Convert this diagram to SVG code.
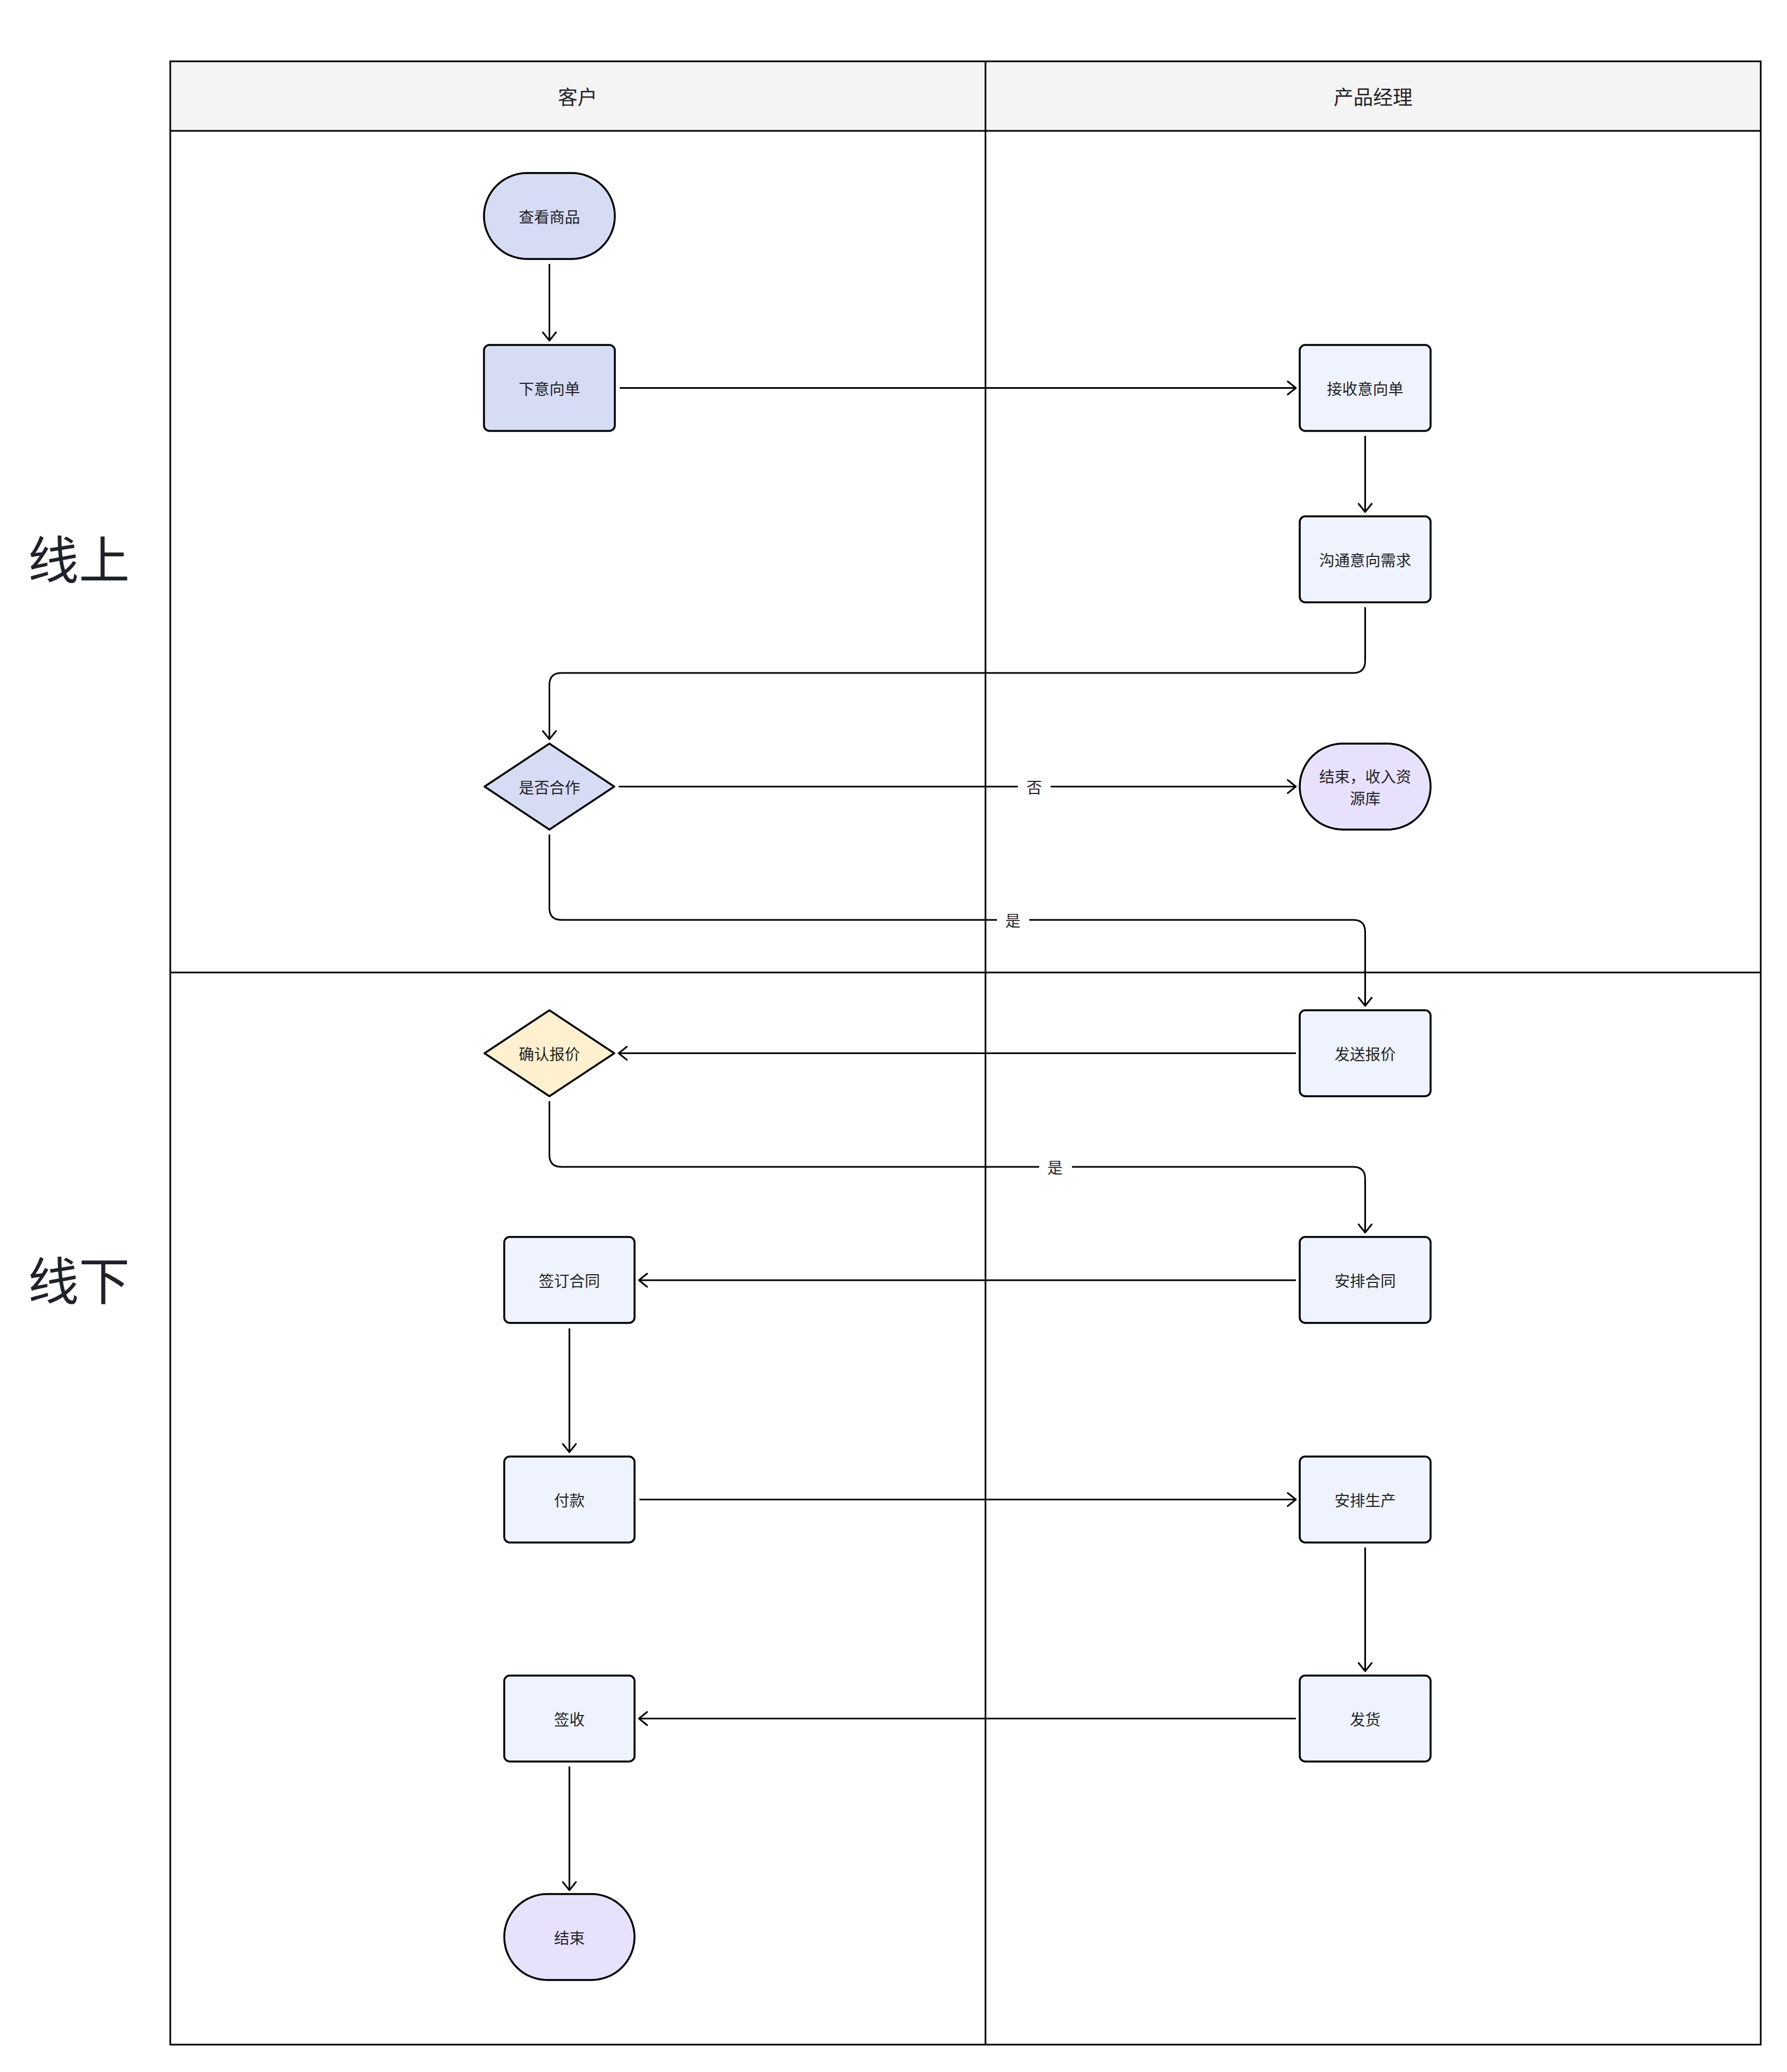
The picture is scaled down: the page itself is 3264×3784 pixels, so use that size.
<svg xmlns="http://www.w3.org/2000/svg" width="3264" height="3784" viewBox="0 0 3264 3784">
  <style>
    text { font-family: "Noto Sans CJK SC", "Noto Sans", sans-serif; fill: #1f2329; text-anchor: middle; dominant-baseline: central; }
    .lane { fill: none; stroke: #000; stroke-width: 3; }
    .head { fill: #f4f4f4; }
    .headtxt { font-size: 36px; }
    .rowtxt { font-size: 93px; }
    .node { stroke: #000; stroke-width: 3.5; stroke-linejoin: round; }
    .blue { fill: #d6dcf4; }
    .pale { fill: #eef3fd; }
    .lilac { fill: #e8e1fc; }
    .yellow { fill: #fff1cf; }
    .ntxt { font-size: 28px; }
    .edge { fill: none; stroke: #000; stroke-width: 3; marker-end: url(#arrow); }
    .lblbg { fill: #fff; }
    .lbl { font-size: 28px; }
  </style>
  <defs>
    <marker id="arrow" markerUnits="userSpaceOnUse" viewBox="-18 -15 21 30" markerWidth="21" markerHeight="30" refX="0" refY="0" orient="auto">
      <path d="M -15 -12 L 0 0 L -15 12" fill="none" stroke="#000" stroke-width="3" stroke-linecap="round" stroke-linejoin="round"/>
    </marker>
  </defs>

  <rect width="3264" height="3784" fill="#fff"/>

  <!-- swimlane frame -->
  <g id="swimlanes">
    <rect class="head" x="311" y="112" width="2905" height="127"/>
    <rect class="lane" x="311" y="112" width="2905" height="3622"/>
    <line class="lane" x1="311" y1="239" x2="3216" y2="239"/>
    <line class="lane" x1="1800" y1="112" x2="1800" y2="3734"/>
    <line class="lane" x1="311" y1="1776" x2="3216" y2="1776"/>
    <text class="headtxt" x="1055" y="175">客户</text>
    <text class="headtxt" x="2508" y="175">产品经理</text>
    <text class="rowtxt" x="144" y="1016">线上</text>
    <text class="rowtxt" x="144" y="2333">线下</text>
  </g>

  <!-- connectors -->
  <g id="connectors">
    <line class="edge" x1="1003.5" y1="482" x2="1003.5" y2="622"/>
    <line class="edge" x1="1132" y1="708.5" x2="2367" y2="708.5"/>
    <line class="edge" x1="2493.5" y1="796" x2="2493.5" y2="935"/>
    <path class="edge" d="M 2493.5 1109 V 1207 Q 2493.5 1229 2471.5 1229 H 1025.5 Q 1003.5 1229 1003.5 1251 V 1350"/>
    <line class="edge" x1="1130" y1="1436.5" x2="2367" y2="1436.5"/>
    <path class="edge" d="M 1003.5 1524 V 1658 Q 1003.5 1680 1025.5 1680 H 2471.5 Q 2493.5 1680 2493.5 1702 V 1837"/>
    <line class="edge" x1="2367" y1="1923.5" x2="1130" y2="1923.5"/>
    <path class="edge" d="M 1003.5 2011 V 2109 Q 1003.5 2131 1025.5 2131 H 2471.5 Q 2493.5 2131 2493.5 2153 V 2251"/>
    <line class="edge" x1="2367" y1="2338" x2="1167" y2="2338"/>
    <line class="edge" x1="1040" y1="2426" x2="1040" y2="2652"/>
    <line class="edge" x1="1168" y1="2738.5" x2="2367" y2="2738.5"/>
    <line class="edge" x1="2493.5" y1="2826" x2="2493.5" y2="3052"/>
    <line class="edge" x1="2367" y1="3138.5" x2="1167" y2="3138.5"/>
    <line class="edge" x1="1040" y1="3226" x2="1040" y2="3452"/>

    <rect class="lblbg" x="1859" y="1418" width="60" height="38"/>
    <text class="lbl" x="1889" y="1436.5">否</text>
    <rect class="lblbg" x="1821" y="1661" width="59" height="38"/>
    <text class="lbl" x="1850" y="1680">是</text>
    <rect class="lblbg" x="1898" y="2112" width="60" height="38"/>
    <text class="lbl" x="1927" y="2131">是</text>
  </g>

  <!-- customer lane -->
  <g id="view-goods">
    <rect class="node blue" x="884" y="316" width="239" height="157" rx="78.5"/>
    <text class="ntxt" x="1003.5" y="394.5">查看商品</text>
  </g>
  <g id="place-intent">
    <rect class="node blue" x="884" y="630" width="239" height="157" rx="10"/>
    <text class="ntxt" x="1003.5" y="708.5">下意向单</text>
  </g>
  <g id="cooperate">
    <polygon class="node blue" points="1003.5,1358 1122,1436.5 1003.5,1515 885,1436.5"/>
    <text class="ntxt" x="1003.5" y="1436.5">是否合作</text>
  </g>
  <g id="confirm-quote">
    <polygon class="node yellow" points="1003.5,1845 1122,1923.5 1003.5,2002 885,1923.5"/>
    <text class="ntxt" x="1003.5" y="1923.5">确认报价</text>
  </g>
  <g id="sign-contract">
    <rect class="node pale" x="921" y="2259" width="238" height="157" rx="10"/>
    <text class="ntxt" x="1040" y="2337.5">签订合同</text>
  </g>
  <g id="pay">
    <rect class="node pale" x="921" y="2660" width="238" height="157" rx="10"/>
    <text class="ntxt" x="1040" y="2738.5">付款</text>
  </g>
  <g id="receive">
    <rect class="node pale" x="921" y="3060" width="238" height="157" rx="10"/>
    <text class="ntxt" x="1040" y="3138.5">签收</text>
  </g>
  <g id="end">
    <rect class="node lilac" x="921" y="3459" width="238" height="157" rx="78.5"/>
    <text class="ntxt" x="1040" y="3537.5">结束</text>
  </g>

  <!-- product manager lane -->
  <g id="receive-intent">
    <rect class="node pale" x="2374" y="630" width="239" height="157" rx="10"/>
    <text class="ntxt" x="2493.5" y="708.5">接收意向单</text>
  </g>
  <g id="discuss-needs">
    <rect class="node pale" x="2374" y="943" width="239" height="157" rx="10"/>
    <text class="ntxt" x="2493.5" y="1021.5">沟通意向需求</text>
  </g>
  <g id="end-archive">
    <rect class="node lilac" x="2374" y="1358" width="239" height="157" rx="78.5"/>
    <text class="ntxt" x="2493.5" y="1417">结束，收入资</text>
    <text class="ntxt" x="2493.5" y="1457">源库</text>
  </g>
  <g id="send-quote">
    <rect class="node pale" x="2374" y="1845" width="239" height="157" rx="10"/>
    <text class="ntxt" x="2493.5" y="1923.5">发送报价</text>
  </g>
  <g id="arrange-contract">
    <rect class="node pale" x="2374" y="2259" width="239" height="157" rx="10"/>
    <text class="ntxt" x="2493.5" y="2337.5">安排合同</text>
  </g>
  <g id="arrange-production">
    <rect class="node pale" x="2374" y="2660" width="239" height="157" rx="10"/>
    <text class="ntxt" x="2493.5" y="2738.5">安排生产</text>
  </g>
  <g id="ship">
    <rect class="node pale" x="2374" y="3060" width="239" height="157" rx="10"/>
    <text class="ntxt" x="2493.5" y="3138.5">发货</text>
  </g>
</svg>
